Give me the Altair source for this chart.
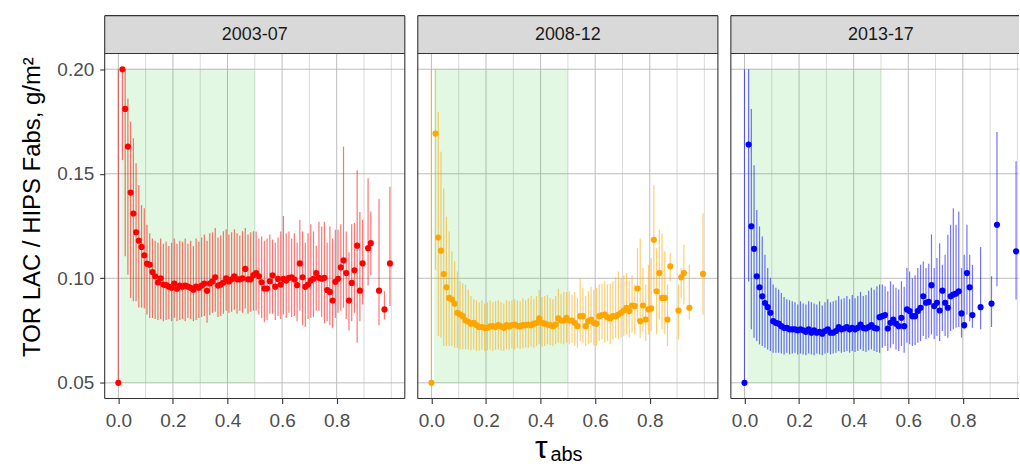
import altair as alt
import pandas as pd

PANELS = ["2003-07", "2008-12", "2013-17"]
COLORS = ["#FF0000", "#FFA500", "#0000FF"]

X_TICKS = [0.0, 0.2, 0.4, 0.6, 0.8]
X_MINOR = [0.1, 0.3, 0.5, 0.7, 0.9, 1.0]
Y_TICKS = [0.05, 0.10, 0.15, 0.20]
SHADE_X = [0.01, 0.5]
SHADE_Y = [0.05, 0.2]

# ---------------- 2003-07 ----------------
x1 = [0.0, 0.015, 0.025, 0.035, 0.045, 0.055, 0.065, 0.075, 0.085, 0.095,
      0.105, 0.115, 0.125, 0.135, 0.145, 0.155, 0.165, 0.175, 0.185, 0.195,
      0.205, 0.215, 0.225, 0.235, 0.245, 0.255, 0.265, 0.275, 0.285, 0.295,
      0.305, 0.315, 0.325, 0.335, 0.345, 0.355, 0.365, 0.375, 0.385, 0.395,
      0.405, 0.415, 0.425, 0.435, 0.445, 0.455, 0.465, 0.475, 0.485, 0.495,
      0.505, 0.515, 0.525, 0.535, 0.545, 0.555, 0.565, 0.575, 0.585, 0.595,
      0.605, 0.615, 0.625, 0.635, 0.645, 0.655, 0.665, 0.675, 0.685, 0.695,
      0.705, 0.715, 0.725, 0.735, 0.745, 0.755, 0.765, 0.775, 0.785, 0.795,
      0.805, 0.815, 0.825, 0.835, 0.845, 0.855, 0.865, 0.875, 0.885, 0.895,
      0.915, 0.925, 0.955, 0.975, 0.995]
y1 = [0.050, 0.200, 0.181, 0.163, 0.141, 0.131, 0.122, 0.118, 0.115, 0.111,
      0.107, 0.1065, 0.103, 0.101, 0.098, 0.100, 0.097, 0.0967, 0.096, 0.0955,
      0.0975, 0.095, 0.0965, 0.096, 0.0965, 0.096, 0.0955, 0.0945, 0.096, 0.0955,
      0.0965, 0.0975, 0.094, 0.0975, 0.0985, 0.1005, 0.0965, 0.097, 0.098, 0.100,
      0.0985, 0.0995, 0.101, 0.0995, 0.0995, 0.100, 0.1045, 0.0995, 0.0995, 0.1015,
      0.1025, 0.101, 0.0981, 0.0951, 0.0951, 0.0986, 0.1014, 0.096, 0.0997, 0.097,
      0.0997, 0.0989, 0.1002, 0.1005, 0.0994, 0.0967, 0.1071, 0.1005, 0.0959, 0.097,
      0.0989, 0.0998, 0.1025, 0.1002, 0.0998, 0.1002, 0.0944, 0.0935, 0.0894, 0.0983,
      0.0998, 0.1052, 0.1086, 0.1025, 0.0894, 0.0978, 0.1038, 0.1156, 0.0941, 0.1071,
      0.1144, 0.1168, 0.0941, 0.0851, 0.1071]
lo1 = [0.050, 0.1565, 0.1105, 0.1017, 0.0906, 0.089, 0.089, 0.086, 0.086, 0.0855,
       0.0827, 0.081, 0.081, 0.0805, 0.080, 0.0805, 0.0795, 0.080, 0.0805, 0.0795,
       0.081, 0.0795, 0.080, 0.0805, 0.0795, 0.081, 0.0805, 0.0795, 0.080, 0.081,
       0.0815, 0.082, 0.0787, 0.0825, 0.0835, 0.084, 0.0815, 0.082, 0.083, 0.0845,
       0.0835, 0.084, 0.085, 0.083, 0.0845, 0.0835, 0.0855, 0.083, 0.084, 0.0845,
       0.0845, 0.0827, 0.081, 0.079, 0.080, 0.083, 0.083, 0.080, 0.082, 0.0805,
       0.0827, 0.081, 0.0835, 0.0815, 0.082, 0.0795, 0.0845, 0.0775, 0.0767, 0.0805,
       0.081, 0.0815, 0.0845, 0.0845, 0.0815, 0.0785, 0.0795, 0.0775, 0.0763, 0.081,
       0.0835, 0.0845, 0.0859, 0.0805, 0.075, 0.0795, 0.0835, 0.0692, 0.0795, 0.0875,
       0.0965, 0.1015, 0.0776, 0.0803, 0.0867]
hi1 = [0.200, 0.200, 0.200, 0.186, 0.175, 0.167, 0.155, 0.1446, 0.135, 0.1335,
       0.1256, 0.1216, 0.119, 0.118, 0.117, 0.119, 0.1165, 0.1175, 0.1155, 0.117,
       0.119, 0.1165, 0.118, 0.1175, 0.119, 0.1165, 0.118, 0.1155, 0.119, 0.1175,
       0.1195, 0.121, 0.118, 0.1215, 0.122, 0.124, 0.1195, 0.1205, 0.1225, 0.1235,
       0.121, 0.122, 0.1235, 0.1215, 0.1205, 0.1225, 0.124, 0.121, 0.122, 0.1225,
       0.1224, 0.119, 0.120, 0.118, 0.119, 0.121, 0.1185, 0.117, 0.1195, 0.1224,
       0.1298, 0.1215, 0.1224, 0.119, 0.1215, 0.117, 0.128, 0.1224, 0.117, 0.1215,
       0.1259, 0.1224, 0.1156, 0.127, 0.1248, 0.127, 0.117, 0.1248, 0.119, 0.1232,
       0.1232, 0.1259, 0.163, 0.1224, 0.1125, 0.1259, 0.1264, 0.1517, 0.1317, 0.128,
       0.1478, 0.132, 0.138, 0.0938, 0.1438]

# ---------------- 2008-12 ----------------
x2 = [0.0, 0.015, 0.025, 0.035, 0.045, 0.055, 0.065, 0.075, 0.085, 0.095,
      0.105, 0.115, 0.125, 0.135, 0.145, 0.155, 0.165, 0.175, 0.185, 0.195,
      0.205, 0.215, 0.225, 0.235, 0.245, 0.255, 0.265, 0.275, 0.285, 0.295,
      0.305, 0.315, 0.325, 0.335, 0.345, 0.355, 0.365, 0.375, 0.385, 0.395,
      0.405, 0.415, 0.425, 0.435, 0.445, 0.455, 0.465, 0.475, 0.485, 0.495,
      0.505, 0.515, 0.525, 0.535, 0.545, 0.555, 0.565, 0.575, 0.585, 0.595,
      0.605, 0.615, 0.625, 0.635, 0.645, 0.655, 0.665, 0.675, 0.685, 0.695,
      0.705, 0.715, 0.725, 0.735, 0.745, 0.755, 0.765, 0.775, 0.785, 0.795,
      0.805, 0.815, 0.825, 0.835, 0.845, 0.855, 0.865, 0.875,
      0.905, 0.915, 0.925, 0.945, 0.995]
y2 = [0.050, 0.1692, 0.1195, 0.1132, 0.102, 0.0957, 0.0906, 0.0898, 0.0878, 0.0835,
      0.0827, 0.0819, 0.0798, 0.0792, 0.0783, 0.0787, 0.0776, 0.0767, 0.0767, 0.0763,
      0.0763, 0.0770, 0.0771, 0.0767, 0.0776, 0.0770, 0.0763, 0.0776, 0.0770, 0.0776,
      0.0779, 0.0773, 0.0770, 0.0776, 0.0776, 0.0779, 0.0776, 0.0783, 0.0786, 0.0808,
      0.0787, 0.0783, 0.0779, 0.0776, 0.0771, 0.0779, 0.0808, 0.0798, 0.0798, 0.0811,
      0.0798, 0.0798, 0.0787, 0.0771, 0.0819, 0.0819, 0.0771, 0.0795, 0.0803, 0.0787,
      0.0783, 0.0819, 0.0824, 0.0827, 0.0814, 0.0808, 0.0819, 0.0819, 0.0827, 0.0835,
      0.0846, 0.0859, 0.0843, 0.0870, 0.0867, 0.0951, 0.0795, 0.0870, 0.0803, 0.0851,
      0.0856, 0.1184, 0.0938, 0.1025, 0.0906, 0.0906, 0.0803, 0.1057,
      0.0846, 0.1005, 0.1025, 0.0859, 0.1021]
lo2 = [0.050, 0.104, 0.0724, 0.0716, 0.0676, 0.0676, 0.0676, 0.0676, 0.0668, 0.0668,
       0.066, 0.066, 0.066, 0.066, 0.0655, 0.066, 0.0652, 0.0655, 0.066, 0.0652,
       0.0655, 0.066, 0.0652, 0.0658, 0.066, 0.0655, 0.0652, 0.066, 0.0658, 0.0665,
       0.066, 0.0668, 0.0662, 0.0665, 0.067, 0.0668, 0.0672, 0.0668, 0.0676, 0.0684,
       0.0672, 0.0676, 0.0684, 0.068, 0.0676, 0.0684, 0.0692, 0.0688, 0.0684, 0.0692,
       0.0684, 0.0692, 0.0676, 0.0668, 0.070, 0.0692, 0.0676, 0.0684, 0.0692, 0.068,
       0.0676, 0.070, 0.0708, 0.0692, 0.070, 0.0684, 0.0708, 0.0716, 0.0708, 0.0716,
       0.0724, 0.0732, 0.0716, 0.074, 0.0732, 0.0795, 0.0716, 0.0748, 0.0700, 0.0732,
       0.0748, 0.0938, 0.0732, 0.0803, 0.0756, 0.0732, 0.0676, 0.0986,
       0.0708, 0.0906, 0.0875, 0.0803, 0.0827]
hi2 = [0.200, 0.200, 0.1795, 0.1605, 0.143, 0.1295, 0.1224, 0.1129, 0.108, 0.1033,
       0.0986, 0.0978, 0.097, 0.0946, 0.0915, 0.090, 0.0895, 0.0885, 0.0895, 0.088,
       0.0885, 0.0895, 0.0885, 0.089, 0.0895, 0.0885, 0.088, 0.0895, 0.089, 0.0895,
       0.090, 0.0895, 0.089, 0.0905, 0.0895, 0.0905, 0.0915, 0.090, 0.0915, 0.0945,
       0.091, 0.0915, 0.092, 0.0905, 0.090, 0.0915, 0.095, 0.0925, 0.0935, 0.0935,
       0.0938, 0.092, 0.0935, 0.0906, 0.100, 0.0955, 0.0915, 0.0938, 0.096, 0.0945,
       0.0955, 0.097, 0.0975, 0.0986, 0.097, 0.0975, 0.0986, 0.1005, 0.1033, 0.100,
       0.1015, 0.1025, 0.099, 0.1015, 0.097, 0.1144, 0.119, 0.1049, 0.097, 0.1065,
       0.1097, 0.1446, 0.1144, 0.1232, 0.1216, 0.1129, 0.097, 0.112,
       0.097, 0.1049, 0.116, 0.1065, 0.1311]

# ---------------- 2013-17 ----------------
x3 = [0.0, 0.015, 0.025, 0.035, 0.045, 0.055, 0.065, 0.075, 0.085, 0.095,
      0.105, 0.115, 0.125, 0.135, 0.145, 0.155, 0.165, 0.175, 0.185, 0.195,
      0.205, 0.215, 0.225, 0.235, 0.245, 0.255, 0.265, 0.275, 0.285, 0.295,
      0.305, 0.315, 0.325, 0.335, 0.345, 0.355, 0.365, 0.375, 0.385, 0.395,
      0.405, 0.415, 0.425, 0.435, 0.445, 0.455, 0.465, 0.475, 0.485, 0.495,
      0.505, 0.515, 0.525, 0.535, 0.545, 0.555, 0.565, 0.575, 0.585, 0.595,
      0.605, 0.615, 0.625, 0.635, 0.645, 0.655, 0.665, 0.675, 0.685, 0.695,
      0.705, 0.715, 0.725, 0.735, 0.745, 0.755, 0.765, 0.775, 0.785, 0.795,
      0.805, 0.815, 0.825, 0.835,
      0.865, 0.905, 0.925, 0.995]
y3 = [0.050, 0.164, 0.1249, 0.1141, 0.101, 0.0957, 0.0914, 0.0882, 0.0862, 0.0835,
      0.0795, 0.0787, 0.0783, 0.0771, 0.0763, 0.0763, 0.0756, 0.0756, 0.0756, 0.0751,
      0.0756, 0.0751, 0.0744, 0.0756, 0.0740, 0.0751, 0.0740, 0.0744, 0.0735, 0.0748,
      0.0756, 0.0740, 0.0740, 0.0748, 0.0767, 0.0756, 0.0760, 0.0767, 0.0756, 0.0763,
      0.0756, 0.0763, 0.0779, 0.0763, 0.0760, 0.0767, 0.0776, 0.0763, 0.0760, 0.0814,
      0.0819, 0.0824, 0.0760, 0.0787, 0.0803, 0.0783, 0.0771, 0.0811, 0.0771, 0.0851,
      0.0843, 0.0819, 0.0819, 0.0843, 0.0859, 0.0914, 0.0883, 0.0887, 0.0967, 0.0867,
      0.0883, 0.0846, 0.0941, 0.0883, 0.0859, 0.0914, 0.0922, 0.0927, 0.0938, 0.0832,
      0.0776, 0.1025, 0.0957, 0.0824,
      0.0862, 0.0879, 0.1256, 0.1129]
lo3 = [0.050, 0.0985, 0.0756, 0.0716, 0.070, 0.0684, 0.0676, 0.0668, 0.066, 0.0652,
       0.0644, 0.0644, 0.0644, 0.064, 0.0636, 0.0644, 0.0636, 0.064, 0.0644, 0.0636,
       0.064, 0.0636, 0.0632, 0.064, 0.0636, 0.0632, 0.064, 0.0636, 0.0632, 0.064,
       0.0644, 0.0636, 0.064, 0.0644, 0.0652, 0.0644, 0.0648, 0.0652, 0.0644, 0.0652,
       0.0648, 0.0652, 0.066, 0.0652, 0.0648, 0.0656, 0.066, 0.0652, 0.0648, 0.0644,
       0.0668, 0.0676, 0.0652, 0.0668, 0.0684, 0.066, 0.0652, 0.0676, 0.0644, 0.0692,
       0.0684, 0.0676, 0.068, 0.0692, 0.070, 0.0724, 0.0708, 0.0716, 0.0732, 0.0708,
       0.0724, 0.070, 0.0748, 0.0724, 0.0716, 0.0748, 0.0756, 0.0763, 0.0767, 0.0716,
       0.0756, 0.0827, 0.0795, 0.0763,
       0.0756, 0.0767, 0.0962, 0.0898]
hi3 = [0.200, 0.200, 0.181, 0.1541, 0.1327, 0.1248, 0.120, 0.1113, 0.1049, 0.1002,
       0.097, 0.0955, 0.0946, 0.093, 0.091, 0.090, 0.0895, 0.089, 0.0885, 0.0875,
       0.089, 0.088, 0.0875, 0.089, 0.0885, 0.088, 0.0875, 0.089, 0.087, 0.0885,
       0.090, 0.0885, 0.089, 0.0895, 0.0915, 0.090, 0.0905, 0.0915, 0.090, 0.092,
       0.0905, 0.0915, 0.0935, 0.0915, 0.092, 0.094, 0.0955, 0.0945, 0.0962, 0.097,
       0.097, 0.0962, 0.0938, 0.0986, 0.097, 0.0955, 0.0946, 0.0986, 0.096, 0.1049,
       0.1033, 0.100, 0.1015, 0.1049, 0.1065, 0.108, 0.1049, 0.107, 0.121, 0.1049,
       0.1097, 0.1168, 0.1065, 0.1113, 0.1208, 0.1256, 0.1335, 0.1256, 0.132, 0.1049,
       0.1113, 0.1256, 0.1113, 0.1065,
       0.115, 0.101, 0.170, 0.156]

SERIES = [(x1, y1, lo1, hi1), (x2, y2, lo2, hi2), (x3, y3, lo3, hi3)]
for s in SERIES:
    assert len(set(len(a) for a in s)) == 1, [len(a) for a in s]

FONT = "Liberation Sans"
PXU = 273.75          # pixels per x unit
H = 346               # panel height
XMIN = -0.05
YDOM = [0.0425, 0.2075]
BORDER = "#333333"
MAJOR_C = "#bdbdbd"
MINOR_C = "#dadada"
STRIP_H = 38


def panel(i, width, show_y, right_border):
    x, y, lo, hi = SERIES[i]
    color = COLORS[i]
    xmax = XMIN + width / PXU
    xsc = alt.Scale(domain=[XMIN, xmax], nice=False, zero=False)
    ysc = alt.Scale(domain=YDOM, nice=False, zero=False)
    xax = alt.Axis(values=X_TICKS, format=".1f", title=None, grid=False, domain=False,
                   tickColor=BORDER, tickSize=5, tickWidth=1.1,
                   labelFont=FONT, labelFontSize=19, labelColor="#4d4d4d", labelPadding=8)
    if show_y:
        yax = alt.Axis(values=Y_TICKS, format=".2f", title=None, grid=False, domain=False,
                       tickColor=BORDER, tickSize=5, tickWidth=1.1,
                       labelFont=FONT, labelFontSize=19, labelColor="#4d4d4d", labelPadding=6)
    else:
        yax = None

    def X(f):
        return alt.X(f, type="quantitative", scale=xsc, axis=xax)

    def Y(f):
        return alt.Y(f, type="quantitative", scale=ysc, axis=yax)

    df = pd.DataFrame({"x": x, "y": y, "lo": lo, "hi": hi})
    one = pd.DataFrame({"k": [0]})

    layers = []
    layers.append(alt.Chart(pd.DataFrame({"g": X_MINOR})).mark_rule(color=MINOR_C, strokeWidth=1)
                  .encode(x=X("g"), y=alt.value(0), y2=alt.value(H)))
    layers.append(alt.Chart(pd.DataFrame({"g": X_TICKS})).mark_rule(color=MAJOR_C, strokeWidth=1)
                  .encode(x=X("g"), y=alt.value(0), y2=alt.value(H)))
    layers.append(alt.Chart(pd.DataFrame({"g": Y_TICKS})).mark_rule(color=MAJOR_C, strokeWidth=1)
                  .encode(y=Y("g"), x=alt.value(0), x2=alt.value(width)))
    layers.append(alt.Chart(pd.DataFrame({"x0": [SHADE_X[0]], "x1": [SHADE_X[1]],
                                          "y0": [SHADE_Y[0]], "y1": [SHADE_Y[1]]}))
                  .mark_rect(color="#33cc33", opacity=0.14)
                  .encode(x=X("x0"), x2="x1", y=Y("y0"), y2="y1"))
    layers.append(alt.Chart(df).mark_rule(color=color, opacity=0.55, strokeWidth=1.2)
                  .encode(x=X("x"), y=Y("lo"), y2="hi"))
    layers.append(alt.Chart(df).mark_circle(color=color, opacity=1, size=38)
                  .encode(x=X("x"), y=Y("y")))
    # strip
    layers.append(alt.Chart(pd.DataFrame({"lab": [PANELS[i]]})).mark_rect(fill="#d9d9d9")
                  .encode(x=alt.value(0), x2=alt.value(width), y=alt.value(-STRIP_H), y2=alt.value(0)))
    layers.append(alt.Chart(pd.DataFrame({"lab": [PANELS[i]]}))
                  .mark_text(font=FONT, fontSize=18, color="#1a1a1a", align="center", baseline="middle")
                  .encode(x=alt.value(150.5), y=alt.value(-STRIP_H / 2), text="lab:N"))
    # borders
    for yv in (-STRIP_H, 0, H):
        layers.append(alt.Chart(one).mark_rule(color=BORDER, strokeWidth=1.1)
                      .encode(x=alt.value(0), x2=alt.value(width), y=alt.value(yv)))
    xs_b = [0, width] if right_border else [0]
    for xv in xs_b:
        layers.append(alt.Chart(one).mark_rule(color=BORDER, strokeWidth=1.1)
                      .encode(x=alt.value(xv), y=alt.value(-STRIP_H), y2=alt.value(H)))
    if show_y:
        layers.append(alt.Chart(one)
                      .mark_text(font=FONT, fontSize=24, color="black", angle=270,
                                 align="center", baseline="middle")
                      .encode(x=alt.value(-72), y=alt.value(154),
                              text=alt.value("TOR LAC / HIPS Fabs, g/m²")))
    if i == 1:
        layers.append(alt.Chart(one)
                      .mark_text(font=FONT, fontSize=32, color="black", align="center",
                                 baseline="alphabetic")
                      .encode(x=alt.value(124), y=alt.value(406), text=alt.value("τ")))
        layers.append(alt.Chart(one)
                      .mark_text(font=FONT, fontSize=20, color="black", align="left",
                                 baseline="alphabetic")
                      .encode(x=alt.value(133), y=alt.value(409), text=alt.value("abs")))
    return alt.layer(*layers).properties(width=width, height=H)


p1 = panel(0, 301, True, True)
p2 = panel(1, 301, False, True)
p3 = panel(2, 289, False, False)

chart = (alt.hconcat(p1, p2, p3, spacing=11)
         .properties(padding={"left": 20, "top": 14, "right": 0, "bottom": 0}, background="white")
         .configure_view(stroke=None))

chart.save("out.html", embed_options={"renderer": "svg", "actions": False})
